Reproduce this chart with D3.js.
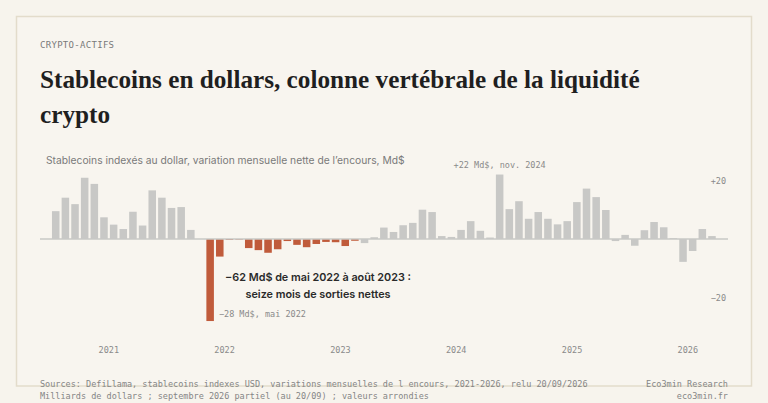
<!DOCTYPE html>
<html>
<head>
<meta charset="utf-8">
<script src="https://cdn.jsdelivr.net/npm/d3@7"></script>
<style>
  html, body { margin: 0; padding: 0; background: #f7f4ed; }
  svg { display: block; }
</style>
</head>
<body>
<script>
// monthly net change of USD stablecoin supply, Md$ (Jan 2021 -> Sep 2026)
var values2021 = [9.5, 14.1, 11.9, 20.9, 18.8, 7.4, 4.9, 3.4, 9.3, 4.6, 16.6, 14.1];
var values2022 = [10.6, 10.9, 3.1, 0, -28, -6.0, -0.3, -0.2, -3.1, -3.8, -4.7, -3.5];
var values2023 = [-0.7, -2.0, -2.8, -1.7, -1.0, -1.1, -2.4, -0.6, -1.4, 0.6, 3.9, 2.4];
var values2024 = [4.7, 5.5, 10.0, 9.2, 1.0, 0.7, 3.1, 6.1, 2.8, 0.5, 22, 10.2];
var values2025 = [12.9, 6.9, 9.2, 6.9, 5.0, 6.1, 12.6, 17.2, 14.3, 9.9, -0.7, 1.4];
var values2026 = [-2.3, 3.0, 5.8, 4.0, 0.3, -7.8, -4.1, 3.4, 1.0];

var years = ["2021", "2022", "2023", "2024", "2025", "2026"];
var yTicks = [-20, 20];
var outflowStart = "2022-05";
var outflowEnd = "2023-08";

var values = [].concat(values2021, values2022, values2023, values2024, values2025, values2026);
var months = d3.timeMonth.range(new Date(2021, 0, 1), new Date(2026, 9, 1)).map(d3.timeFormat("%Y-%m"));
var dataset = months.map(function(m, i) { return { month: m, value: values[i] }; });

var svgWidth = 768;
var svgHeight = 403;

var mono = "'DejaVu Sans Mono', monospace";
var sans = "Inter, 'Noto Sans', sans-serif";

var svg = d3.select("body")
  .append("svg")
  .attr("width", svgWidth)
  .attr("height", svgHeight);

// shrink or grow a text so its first line has the wanted width
function fitWidth(sel, size, width) {
  var node = sel.node().tagName === "text" && sel.select("tspan").empty() ? sel.node() : sel.select("tspan").node();
  var w = node.getComputedTextLength();
  sel.style("font-size", (size * width / w) + "px");
}

// frame
svg.append("rect")
  .attr("x", 16.5)
  .attr("y", 16.5)
  .attr("width", 735)
  .attr("height", 369.5)
  .style("fill", "#f8f5ef")
  .style("stroke", "#e3dccb")
  .style("stroke-width", 1.5);

svg.append("text")
  .attr("x", 40)
  .attr("y", 48)
  .style("font-family", mono)
  .style("font-size", "9px")
  .style("letter-spacing", "0.3px")
  .style("fill", "#7a7a7a")
  .text("CRYPTO-ACTIFS");

var titleLines = ["Stablecoins en dollars, colonne vertébrale de la liquidité", "crypto"];
var title = svg.append("text")
  .style("font-family", "'Liberation Serif', serif")
  .style("font-weight", "bold")
  .style("font-size", "25px")
  .style("fill", "#1f1f1f");
title.selectAll("tspan")
  .data(titleLines)
  .enter()
  .append("tspan")
  .attr("x", 40)
  .attr("y", function(d, i) { return 88 + i * 35; })
  .text(function(d) { return d; });
fitWidth(title, 25, 600);

var subtitle = svg.append("text")
  .attr("x", 46)
  .attr("y", 164)
  .style("font-family", sans)
  .style("font-size", "11px")
  .style("fill", "#7a7a7a")
  .text("Stablecoins indexés au dollar, variation mensuelle nette de l\u2019encours, Md$");
fitWidth(subtitle, 11, 359);

// scales
var xScale = d3.scaleBand()
  .domain(months)
  .range([50.9, 716.8])
  .paddingInner(0.22)
  .paddingOuter(0.11);

var yScale = d3.scaleLinear()
  .domain([-20, 20])
  .range([297.6, 180.4]);

function inOutflow(m) { return m >= outflowStart && m <= outflowEnd; }

svg.selectAll(".bar")
  .data(dataset)
  .enter()
  .append("rect")
  .attr("class", "bar")
  .attr("x", function(d) { return xScale(d.month); })
  .attr("y", function(d) { return yScale(Math.max(0, d.value)); })
  .attr("width", xScale.bandwidth())
  .attr("height", function(d) { return Math.abs(yScale(d.value) - yScale(0)); })
  .style("fill", function(d) { return inOutflow(d.month) ? "#c05b3b" : "#c8c8c6"; });

// zero line
svg.append("line")
  .attr("x1", 40)
  .attr("x2", 728)
  .attr("y1", yScale(0))
  .attr("y2", yScale(0))
  .style("stroke", "#c8c8c6")
  .style("stroke-width", 1.5);

// right axis labels
var yAxis = svg.append("g")
  .attr("transform", "translate(726,0)")
  .call(d3.axisLeft(yScale)
    .tickValues(yTicks)
    .tickSize(0)
    .tickPadding(0)
    .tickFormat(function(d) { return d > 0 ? "+" + d : "\u2212" + Math.abs(d); }));
yAxis.select(".domain").remove();
yAxis.selectAll("text")
  .style("font-family", mono)
  .style("font-size", "8.5px")
  .style("fill", "#8a8a8a");

// year labels
var step = xScale.step();
var xYear = svg.append("g")
  .attr("transform", "translate(0,349)");
xYear.selectAll("text")
  .data(years)
  .enter()
  .append("text")
  .attr("x", function(d) { return xScale(d + "-01") - step * 0.11 + 6 * step; })
  .attr("y", 4)
  .attr("text-anchor", "middle")
  .style("font-family", mono)
  .style("font-size", "8.5px")
  .style("fill", "#8a8a8a")
  .text(function(d) { return d; });

// annotations
svg.append("text")
  .attr("x", xScale("2024-11") + xScale.bandwidth() / 2)
  .attr("y", 168)
  .attr("text-anchor", "middle")
  .style("font-family", mono)
  .style("font-size", "8.5px")
  .style("fill", "#8a8a8a")
  .text("+22 Md$, nov. 2024");

svg.append("text")
  .attr("x", xScale("2022-05") + xScale.bandwidth() + 5)
  .attr("y", 317)
  .style("font-family", mono)
  .style("font-size", "8.5px")
  .style("fill", "#8a8a8a")
  .text("\u221228 Md$, mai 2022");

var note = svg.append("text")
  .attr("text-anchor", "middle")
  .style("font-family", sans)
  .style("font-weight", "600")
  .style("font-size", "12px")
  .style("fill", "#2a2a2a");
note.selectAll("tspan")
  .data(["\u221262 Md$ de mai 2022 à août 2023 :", "seize mois de sorties nettes"])
  .enter()
  .append("tspan")
  .attr("x", 318)
  .attr("y", function(d, i) { return 281 + i * 17; })
  .text(function(d) { return d; });
fitWidth(note, 12, 186);

// footer
var footLeft = ["Sources: DefiLlama, stablecoins indexes USD, variations mensuelles de l encours, 2021-2026, relu 20/09/2026",
  "Milliards de dollars ; septembre 2026 partiel (au 20/09) ; valeurs arrondies"];
var footRight = ["Eco3min Research", "eco3min.fr"];

svg.selectAll(".footL")
  .data(footLeft)
  .enter()
  .append("text")
  .attr("class", "footL")
  .attr("x", 40)
  .attr("y", function(d, i) { return 387 + i * 12; })
  .style("font-family", mono)
  .style("font-size", "8.5px")
  .style("fill", "#858585")
  .text(function(d) { return d; });

svg.selectAll(".footR")
  .data(footRight)
  .enter()
  .append("text")
  .attr("class", "footR")
  .attr("x", 728)
  .attr("y", function(d, i) { return 387 + i * 12; })
  .attr("text-anchor", "end")
  .style("font-family", mono)
  .style("font-size", "8.5px")
  .style("fill", "#858585")
  .text(function(d) { return d; });
</script>
</body>
</html>
